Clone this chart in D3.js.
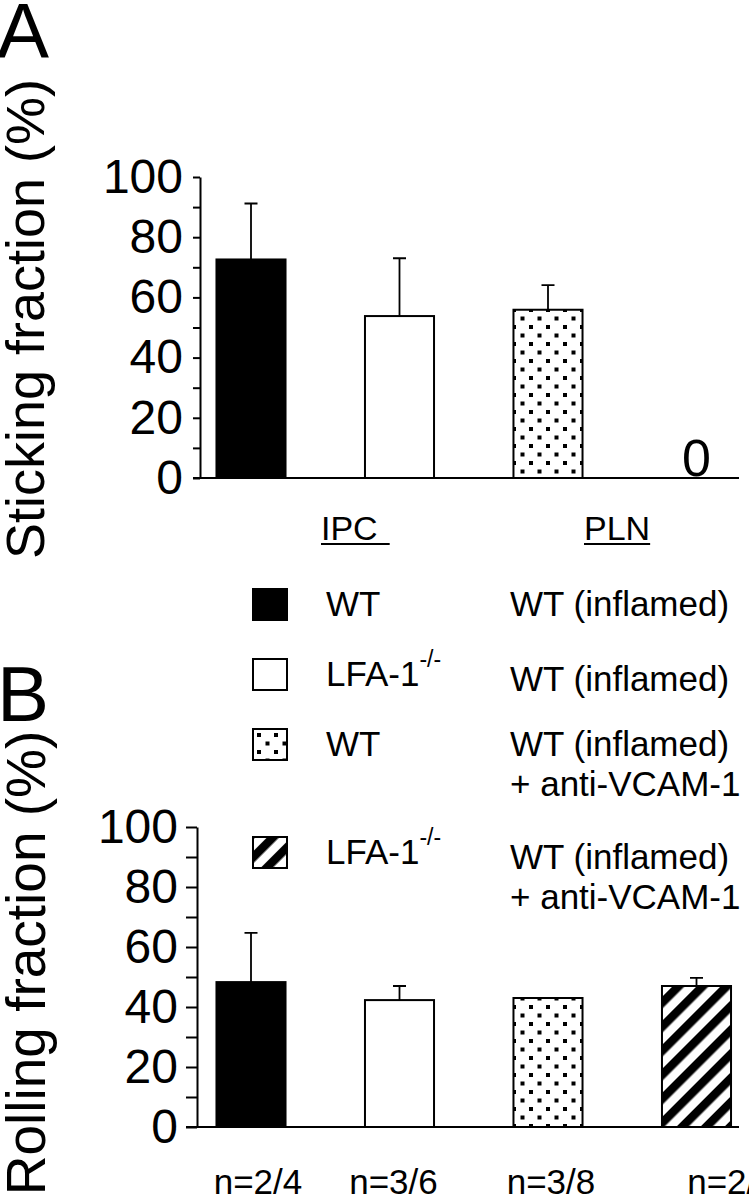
<!DOCTYPE html>
<html>
<head>
<meta charset="utf-8">
<script src="https://cdn.jsdelivr.net/npm/d3@7"></script>
<style>
  body { margin: 0; background: #fff; }
  svg { display: block; font-family: "Liberation Sans", Arial, Helvetica, sans-serif; }
</style>
</head>
<body>
<svg id="chart" width="749" height="1199"></svg>
<script>
// values
const barIds = [0, 1, 2, 3];
const stickingMean = [72.6, 53.8, 55.9, 0];
const stickingErr = [18.6, 19.2, 8.2, 0];
const rollingMean = [48.3, 42.3, 43, 47];
const rollingErr = [16.4, 4.7, 0, 2.7];
const nLabels = ["n=2/4", "n=3/6", "n=3/8", "n=2/4"];
const siteLabels = ["IPC", "PLN"];
const yTicks = [0, 20, 40, 60, 80, 100];
const minorTicks = d3.range(0, 101, 10);
const barFills = ["#000", "#fff", "url(#dots)", "url(#stripes)"];
const keyFills = ["#000", "#fff", "url(#dots)", "url(#stripesKey)"];
const donor = ["WT", "LFA-1", "WT", "LFA-1"];
const donorSup = ["", "-/-", "", "-/-"];
const recipient = [
  ["WT (inflamed)"],
  ["WT (inflamed)"],
  ["WT (inflamed)", "+ anti-VCAM-1"],
  ["WT (inflamed)", "+ anti-VCAM-1"]
];

const svg = d3.select("#chart");

// patterns
const defs = svg.append("defs");
const dots = defs.append("pattern")
  .attr("id", "dots")
  .attr("patternUnits", "userSpaceOnUse")
  .attr("width", 17)
  .attr("height", 17);
dots.append("rect").attr("width", 17).attr("height", 17).attr("fill", "#fff");
dots.append("rect").attr("x", 2).attr("y", 2).attr("width", 4).attr("height", 4).attr("fill", "#000");
dots.append("rect").attr("x", 10.5).attr("y", 10.5).attr("width", 4).attr("height", 4).attr("fill", "#000");

function stripePattern(id, offset) {
  const p = defs.append("pattern")
    .attr("id", id)
    .attr("patternUnits", "userSpaceOnUse")
    .attr("x", offset)
    .attr("width", 17)
    .attr("height", 17)
    .attr("patternTransform", "rotate(45)");
  p.append("rect").attr("width", 17).attr("height", 17).attr("fill", "#fff");
  p.append("rect").attr("width", 8.5).attr("height", 17).attr("fill", "#000");
}
stripePattern("stripes", 0);

const x = d3.scaleBand()
  .domain(barIds)
  .range([176.75, 770.75])
  .paddingInner(0.535)
  .paddingOuter(0.2675);
const bw = x.bandwidth();
const cx = i => x(i) + bw / 2;

function drawPanel(opts) {
  const y = d3.scaleLinear().domain([0, 100]).range([opts.bottom, opts.top]);
  const g = svg.append("g");

  // y axis
  const axis = d3.axisLeft(y)
    .tickValues(minorTicks)
    .tickSize(opts.tick)
    .tickSizeOuter(0)
    .tickPadding(opts.pad)
    .tickFormat(d => yTicks.includes(d) ? d : "");
  const ag = g.append("g")
    .attr("transform", `translate(${opts.axisX},0)`)
    .call(axis);
  ag.select(".domain").attr("stroke", "#000").attr("stroke-width", 2);
  ag.selectAll(".tick line").attr("stroke", "#000").attr("stroke-width", 2);
  ag.selectAll(".tick text")
    .attr("font-size", 48)
    .attr("font-family", "Liberation Sans, Arial, sans-serif")
    .attr("fill", "#000");

  // x axis line
  g.append("line")
    .attr("x1", opts.axisX - opts.tick)
    .attr("x2", 739)
    .attr("y1", y(0))
    .attr("y2", y(0))
    .attr("stroke", "#000")
    .attr("stroke-width", 2);

  const shown = barIds.filter(i => opts.mean[i] > 0);

  g.selectAll(".bar")
    .data(shown)
    .enter()
    .append("rect")
    .attr("class", "bar")
    .attr("x", i => x(i))
    .attr("y", i => y(opts.mean[i]))
    .attr("width", bw)
    .attr("height", i => y(0) - y(opts.mean[i]))
    .attr("fill", i => barFills[i])
    .attr("stroke", "#000")
    .attr("stroke-width", 2);

  // error bars (upper only)
  const errs = shown.filter(i => opts.err[i] > 0);
  g.selectAll(".err")
    .data(errs)
    .enter()
    .append("path")
    .attr("class", "err")
    .attr("d", i => {
      const top = y(opts.mean[i] + opts.err[i]);
      return `M${cx(i)},${y(opts.mean[i])}V${top}M${cx(i) - 6.5},${top}H${cx(i) + 6.5}`;
    })
    .attr("fill", "none")
    .attr("stroke", "#000")
    .attr("stroke-width", 1.8);

  return { g, y };
}

// ---------- Panel A ----------
const A = drawPanel({ top: 177, bottom: 478, axisX: 200, tick: 7, pad: 10, mean: stickingMean, err: stickingErr });

// zero label for missing bar
A.g.selectAll(".zero")
  .data(barIds.filter(i => stickingMean[i] === 0))
  .enter()
  .append("text")
  .attr("x", i => cx(i))
  .attr("y", A.y(0) - 2)
  .attr("text-anchor", "middle")
  .attr("font-size", 52)
  .text("0");

// site labels, underlined
const siteX = [321, 584];
siteLabels.forEach((s, k) => {
  const t = A.g.append("text")
    .attr("x", siteX[k])
    .attr("y", 540)
    .attr("font-size", 34)
    .text(s);
  const w = t.node().getComputedTextLength() + (k === 0 ? 12 : 0);
  A.g.append("line")
    .attr("x1", siteX[k])
    .attr("x2", siteX[k] + w)
    .attr("y1", 544)
    .attr("y2", 544)
    .attr("stroke", "#000")
    .attr("stroke-width", 2);
});

svg.append("text")
  .attr("x", -3)
  .attr("y", 58)
  .attr("font-size", 78)
  .text("A");

svg.append("text")
  .attr("transform", "translate(44,319) rotate(-90)")
  .attr("text-anchor", "middle")
  .attr("font-size", 54)
  .text("Sticking fraction (%)");

// ---------- Legend ----------
let extra = 0;
const legend = svg.append("g");
barIds.forEach(i => {
  const top = 589 + i * 70 + extra;
  extra += (recipient[i].length - 1) * 38;
  if (i === 3) {
    // put a white band through the middle of the key square
    const c = [270, top + 15.5];
    const px = c[0] * Math.SQRT1_2 + c[1] * Math.SQRT1_2;
    stripePattern("stripesKey", ((px - 12.75) % 17 + 17) % 17);
  }
  legend.append("rect")
    .attr("x", 253)
    .attr("y", top)
    .attr("width", 34)
    .attr("height", 31)
    .attr("fill", keyFills[i])
    .attr("stroke", "#000")
    .attr("stroke-width", 2);
  const d = legend.append("text")
    .attr("x", 326)
    .attr("y", top + 27)
    .attr("font-size", 35)
    .text(donor[i]);
  if (donorSup[i]) {
    d.append("tspan")
      .attr("dy", -19)
      .attr("font-size", 23)
      .text(donorSup[i]);
  }
  const shift = donorSup[i] ? 5 : 0;
  recipient[i].forEach((line, k) => {
    legend.append("text")
      .attr("x", 510)
      .attr("y", top + 27 + shift + k * 40)
      .attr("font-size", 35)
      .text(line);
  });
});

// ---------- Panel B ----------
const B = drawPanel({ top: 827, bottom: 1127, axisX: 197, tick: 11, pad: 8, mean: rollingMean, err: rollingErr });

// the n labels sit a little off the bar centres in the original
const nShift = [7, -6, 3, 35];
B.g.selectAll(".nlab")
  .data(barIds)
  .enter()
  .append("text")
  .attr("x", i => cx(i) + nShift[i])
  .attr("y", 1194)
  .attr("text-anchor", "middle")
  .attr("font-size", 35)
  .text(i => nLabels[i]);

svg.append("text")
  .attr("x", -3)
  .attr("y", 721)
  .attr("font-size", 78)
  .text("B");

svg.append("text")
  .attr("transform", "translate(45,963) rotate(-90)")
  .attr("text-anchor", "middle")
  .attr("font-size", 55)
  .text("Rolling fraction (%)");
</script>
</body>
</html>
